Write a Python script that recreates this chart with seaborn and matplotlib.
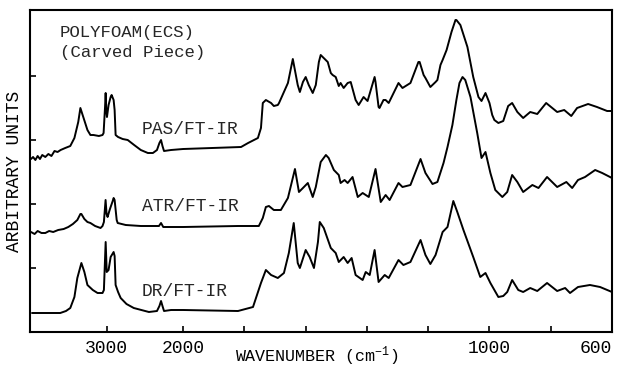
import numpy as np
import pandas as pd
import matplotlib
matplotlib.use("Agg")
import matplotlib.pyplot as plt
import seaborn as sns

# ---------------- data (wavenumber in cm-1, intensity in arbitrary units) ----------------
pas_wn = [3987, 3960, 3930, 3900, 3870, 3840, 3800, 3760, 3720, 3680,
          3640, 3600, 3540, 3474, 3420, 3370, 3342, 3300, 3250, 3211,
          3171, 3100, 3053, 3039, 3020, 3012, 3004, 2995, 2974, 2947,
          2934, 2908, 2895, 2882, 2850, 2790, 2724, 2640, 2553, 2461,
          2395, 2342, 2310, 2289, 2270, 2250, 2158, 2000, 1900, 1811,
          1788, 1769, 1756, 1746, 1740, 1730, 1713, 1704, 1691, 1687,
          1671, 1658, 1642, 1626, 1619, 1609, 1600, 1590, 1577, 1567,
          1557, 1551, 1541, 1528, 1518, 1512, 1502, 1492, 1486, 1476,
          1463, 1453, 1437, 1427, 1411, 1398, 1378, 1375, 1372, 1362,
          1359, 1346, 1339, 1329, 1297, 1284, 1258, 1232, 1228, 1215,
          1209, 1193, 1176, 1170, 1160, 1153, 1140, 1124, 1111, 1108,
          1095, 1072, 1053, 1036, 1026, 1013, 1000, 991, 984, 971,
          955, 939, 926, 909, 890, 867, 844, 815, 779, 756,
          733, 714, 678, 649, 616, 600]
pas_y = [173, 175, 172, 176, 173, 177, 175, 178, 176, 181,
         180, 182, 184, 186, 194, 210, 224, 214, 202, 197,
         197, 196, 197, 199, 225, 239, 222, 215, 227, 235,
         237, 232, 222, 197, 195, 193, 192, 187, 182, 179,
         179, 182, 189, 192, 186, 181, 182, 183, 184, 185,
         189, 192, 194, 204, 229, 232, 229, 226, 227, 229,
         240, 249, 273, 247, 240, 250, 255, 247, 239, 247,
         270, 277, 274, 270, 259, 257, 255, 246, 249, 244,
         249, 250, 232, 227, 235, 231, 252, 255, 250, 225,
         224, 232, 232, 229, 249, 244, 249, 270, 270, 257,
         254, 245, 250, 252, 267, 272, 282, 300, 312, 312,
         307, 285, 255, 235, 231, 239, 229, 217, 212, 209,
         211, 226, 229, 220, 214, 220, 218, 229, 220, 222,
         216, 224, 228, 225, 221, 221]

atr_wn = [3987, 3940, 3900, 3850, 3800, 3750, 3697, 3632, 3560, 3500,
          3440, 3382, 3342, 3329, 3290, 3250, 3211, 3150, 3079, 3053,
          3035, 3013, 3000, 2987, 2960, 2947, 2920, 2908, 2895, 2868,
          2855, 2750, 2553, 2400, 2316, 2289, 2260, 2158, 2000, 1821,
          1753, 1740, 1730, 1720, 1704, 1681, 1658, 1635, 1622, 1609,
          1593, 1577, 1567, 1551, 1534, 1525, 1508, 1492, 1486, 1473,
          1463, 1447, 1430, 1414, 1394, 1372, 1355, 1339, 1326, 1297,
          1284, 1258, 1225, 1209, 1186, 1170, 1150, 1137, 1121, 1108,
          1098, 1088, 1079, 1062, 1040, 1026, 1013, 997, 981, 958,
          942, 926, 909, 890, 860, 840, 812, 779, 749, 730,
          711, 688, 655, 632, 600]
atr_y = [100, 98, 101, 99, 99, 101, 100, 102, 103, 105,
         108, 112, 118, 118, 113, 110, 109, 106, 104, 106,
         110, 132, 118, 115, 122, 125, 131, 134, 132, 112,
         109, 107, 106, 106, 106, 109, 105, 105, 105, 106,
         106, 114, 125, 126, 122, 122, 134, 163, 140, 144,
         149, 135, 145, 170, 177, 174, 162, 157, 149, 152,
         149, 155, 135, 139, 135, 163, 130, 137, 132, 149,
         145, 147, 173, 159, 148, 150, 169, 185, 207, 232,
         249, 255, 252, 235, 199, 174, 180, 159, 142, 135,
         140, 157, 150, 140, 147, 144, 155, 145, 150, 144,
         152, 155, 162, 159, 154]

dr_wn = [3974, 3800, 3605, 3530, 3474, 3420, 3382, 3329, 3290, 3250,
         3180, 3118, 3053, 3035, 3012, 2998, 2974, 2947, 2908, 2895,
         2882, 2850, 2816, 2740, 2645, 2447, 2342, 2310, 2289, 2270,
         2250, 2158, 2000, 1821, 1772, 1746, 1730, 1713, 1691, 1671,
         1655, 1639, 1626, 1619, 1600, 1587, 1573, 1560, 1554, 1541,
         1518, 1502, 1492, 1476, 1463, 1450, 1437, 1414, 1404, 1391,
         1375, 1362, 1342, 1329, 1297, 1281, 1258, 1225, 1209, 1193,
         1176, 1153, 1137, 1118, 1105, 1085, 1053, 1030, 1013, 997,
         971, 955, 942, 926, 906, 890, 867, 844, 812, 779,
         753, 737, 711, 672, 639, 600]
dr_y = [19, 19, 19, 21, 24, 35, 54, 69, 60, 47,
        42, 39, 39, 42, 90, 60, 62, 75, 80, 76,
        47, 40, 34, 28, 24, 20, 21, 26, 31, 26,
        21, 22, 22, 21, 25, 49, 62, 57, 54, 59,
        79, 109, 69, 64, 82, 75, 64, 90, 110, 104,
        84, 79, 70, 75, 69, 74, 57, 52, 60, 57,
        82, 50, 57, 54, 72, 67, 70, 92, 77, 68,
        77, 100, 105, 131, 120, 102, 75, 55, 59, 49,
        35, 36, 40, 52, 42, 40, 44, 41, 49, 41,
        44, 39, 45, 47, 45, 40]

x_ticks = [3000, 2000, 1800, 1600, 1400, 1200, 1000, 800, 600]
x_tick_labels = ["3000", "2000", "", "", "", "", "1000", "", "600"]
y_ticks = [64, 128, 192, 256]

# ---------------- style ----------------
sns.set_theme(style="ticks")
plt.rcParams["font.family"] = ["Liberation Mono", "DejaVu Sans Mono"]
plt.rcParams["mathtext.default"] = "regular"

W, H = 619, 370
fig = plt.figure(figsize=(W / 100, H / 100), dpi=100)
ax = fig.add_axes([30 / W, 38 / H, 582 / W, 322 / H])

for wn, yy in [(pas_wn, pas_y), (atr_wn, atr_y), (dr_wn, dr_y)]:
    df = pd.DataFrame({"wavenumber": wn, "intensity": yy})
    sns.lineplot(data=df, x="wavenumber", y="intensity", ax=ax, color="black",
                 linewidth=1.4, sort=False, estimator=None)


def fwd(w):
    w = np.asarray(w, dtype=float)
    return np.where(w <= 2000, w, 2000 + (w - 2000) / 4.0)


def inv(p):
    p = np.asarray(p, dtype=float)
    return np.where(p <= 2000, p, 2000 + (p - 2000) * 4.0)


ax.set_xscale("function", functions=(fwd, inv))
ax.set_xlim(4000, 600)
ax.set_ylim(0, 322)

ax.set_xticks(x_ticks)
ax.set_xticklabels(x_tick_labels, fontsize=13)
ax.set_yticks(y_ticks)
ax.set_yticklabels([])
ax.xaxis.set_minor_locator(matplotlib.ticker.NullLocator())
ax.yaxis.set_minor_locator(matplotlib.ticker.NullLocator())
ax.tick_params(axis="both", direction="in", length=4, width=1.2, color="black",
               labelcolor="black", pad=6)
ax.get_xticklabels()[-1].set_horizontalalignment("right")

for s in ax.spines.values():
    s.set_linewidth(1.5)
    s.set_color("black")

ax.set_xlabel("WAVENUMBER (cm$^{-1}$)", fontsize=12, color="black")
ax.xaxis.set_label_coords((317 - 30) / 582, -0.04)
ax.set_ylabel("ARBITRARY UNITS", fontsize=13, color="black")
ax.yaxis.set_label_coords(-0.012, 0.5)

fig.text(60 / W, 1 - 33 / H, "POLYFOAM(ECS)", fontsize=12.5, ha="left", va="center")
fig.text(60 / W, 1 - 52 / H, "(Carved Piece)", fontsize=12.5, ha="left", va="center")
fig.text(142 / W, 1 - 130 / H, "PAS/FT-IR", fontsize=13, ha="left", va="center")
fig.text(142 / W, 1 - 207 / H, "ATR/FT-IR", fontsize=13, ha="left", va="center")
fig.text(142 / W, 1 - 292 / H, "DR/FT-IR", fontsize=13, ha="left", va="center")

fig.savefig("out.png", dpi=100, facecolor="white")
